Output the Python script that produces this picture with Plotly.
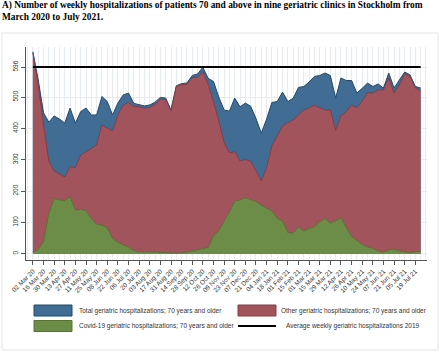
import plotly.graph_objects as go
import pandas as pd

# ---------------- data ----------------
WEEK_START = "2020-03-02"   # first weekly observation (Monday)

TOTAL = [645, 555, 450, 420, 440, 430, 417, 465, 417, 454,
         465, 443, 443, 502, 486, 443, 481, 507, 513, 480,
         476, 472, 475, 484, 499, 497, 459, 536, 543, 545,
         569, 574, 595, 560, 550, 500, 459, 455, 497, 469,
         481, 471, 432, 385, 430, 483, 486, 516, 486, 496,
         531, 534, 548, 566, 569, 577, 569, 497, 561, 553,
         553, 513, 528, 545, 534, 542, 529, 577, 529, 555,
         580, 571, 534, 529]

OTHER = [641, 540, 411, 295, 264, 254, 245, 278, 275, 315,
         326, 335, 347, 411, 401, 392, 443, 475, 483, 470,
         469, 465, 467, 477, 494, 492, 456, 534, 540, 540,
         562, 563, 580, 540, 485, 425, 355, 322, 326, 296,
         301, 295, 266, 232, 275, 345, 376, 408, 419, 427,
         443, 459, 465, 475, 466, 459, 459, 394, 440, 454,
         475, 466, 488, 514, 513, 523, 523, 561, 513, 539,
         575, 566, 529, 521]

COVID = [4, 14, 40, 130, 177, 172, 170, 182, 140, 142,
         138, 113, 94, 92, 83, 49, 37, 28, 22, 10,
         6, 6, 8, 6, 4, 3, 2, 2, 3, 6,
         8, 12, 17, 20, 58, 73, 105, 134, 168, 172,
         179, 174, 167, 155, 145, 137, 113, 105, 68, 66,
         86, 73, 81, 86, 102, 113, 98, 105, 115, 84,
         55, 42, 30, 22, 17, 9, 6, 12, 15, 9,
         6, 4, 6, 9]

AVG_2019 = 596

TICK_LABELS = ["02 Mar 20", "16 Mar 20", "30 Mar 20", "13 Apr 20", "27 Apr 20",
               "11 May 20", "25 May 20", "08 Jun 20", "22 Jun 20", "06 Jul 20",
               "20 Jul 20", "03 Aug 20", "17 Aug 20", "31 Aug 20", "14 Sep 20",
               "28 Sep 20", "12 Oct 20", "26 Oct 20", "09 Nov 20", "23 Nov 20",
               "07 Dec 20", "21 Dec 20", "04 Jan 21", "18 Jan 21", "01 Feb 21",
               "15 Feb 21", "01 Mar 21", "15 Mar 21", "29 Mar 21", "12 Apr 21",
               "26 Apr 21", "10 May 21", "24 May 21", "07 Jun 21", "21 Jun 21",
               "05 Jul 21", "19 Jul 21"]

Y_TICKS = [0, 100, 200, 300, 400, 500, 596]

LEGEND_TEXT = {
    "total": "Total geriatric hospitalizations; 70 years and older",
    "other": "Other geriatric hospitalizations; 70 years and older",
    "covid": "Covid-19 geriatric hospitalizations; 70 years and older",
    "avg": "Average weekly geriatric hospitalizations 2019",
}

TITLE = ("A) Number of weekly hospitalizations of patients 70 and above in nine geriatric clinics in Stockholm from"
         "<br>March 2020 to July 2021.")

# ---------------- styling ----------------
W, H = 440, 352
ML, MR, MT, MB = 26, 13, 47, 92
BLUE_F, BLUE_L = "#416c94", "#1d4a71"
RED_F, RED_L = "#a2545c", "#8c3a41"
GREEN_F, GREEN_L = "#6c8d48", "#557530"
GRID = "#e6ecef"
AX = "#555555"
FONT = "Liberation Sans, Arial, sans-serif"

weeks = pd.date_range(WEEK_START, periods=len(TOTAL), freq="7D")
week = pd.Timedelta(days=7)
x_range = [weeks[0] - 1.3 * week, weeks[0] + 74.2 * week]

fig = go.Figure()
fig.add_trace(go.Scatter(x=weeks, y=TOTAL, mode="lines", fill="tozeroy",
                         fillcolor=BLUE_F, line=dict(color=BLUE_L, width=1),
                         name=LEGEND_TEXT["total"]))
fig.add_trace(go.Scatter(x=weeks, y=OTHER, mode="lines", fill="tozeroy",
                         fillcolor=RED_F, line=dict(color=RED_L, width=1),
                         name=LEGEND_TEXT["other"]))
fig.add_trace(go.Scatter(x=weeks, y=COVID, mode="lines", fill="tozeroy",
                         fillcolor=GREEN_F, line=dict(color=GREEN_L, width=1),
                         name=LEGEND_TEXT["covid"]))
fig.add_trace(go.Scatter(x=weeks, y=[AVG_2019] * len(weeks), mode="lines",
                         line=dict(color="black", width=2),
                         name=LEGEND_TEXT["avg"]))

pw = W - ML - MR
ph = H - MT - MB


def px_x(px):
    return (px - ML) / pw


def px_y(py):
    return (H - MB - py) / ph


shapes = []
annotations = []
# outer graph-region frame
shapes.append(dict(type="rect", xref="paper", yref="paper",
                   x0=px_x(2), x1=px_x(438), y0=px_y(350), y1=px_y(33),
                   line=dict(color="#e4e4e4", width=1), fillcolor="rgba(0,0,0,0)",
                   layer="below"))

# title
annotations.append(dict(xref="paper", yref="paper", x=px_x(0), y=px_y(-1.5),
                        xanchor="left", yanchor="top", align="left", showarrow=False,
                        text=TITLE,
                        font=dict(family="Liberation Serif, Times New Roman, serif",
                                  size=9.4, color="black", weight="bold")))

# legend
legend_items = [
    ("total", "fill", BLUE_F, BLUE_L, 34, 310.5, 77),
    ("other", "fill", RED_F, RED_L, 238, 310.5, 279),
    ("covid", "fill", GREEN_F, GREEN_L, 34, 326, 77),
    ("avg", "line", "black", "black", 238, 326, 284),
]
for key, kind, fc, lc, sx, sy, tx in legend_items:
    if kind == "fill":
        shapes.append(dict(type="rect", xref="paper", yref="paper",
                           x0=px_x(sx), x1=px_x(sx + 38), y0=px_y(sy + 5.5), y1=px_y(sy - 5.5),
                           fillcolor=fc, line=dict(color=lc, width=1)))
    else:
        shapes.append(dict(type="line", xref="paper", yref="paper",
                           x0=px_x(sx), x1=px_x(sx + 38), y0=px_y(sy), y1=px_y(sy),
                           line=dict(color=lc, width=2)))
    annotations.append(dict(xref="paper", yref="paper", x=px_x(tx), y=px_y(sy),
                            xanchor="left", yanchor="middle", showarrow=False,
                            text=LEGEND_TEXT[key],
                            font=dict(family=FONT, size=6.5, color="#333333")))

fig.update_layout(
    width=W, height=H,
    margin=dict(l=ML, r=MR, t=MT, b=MB, autoexpand=False),
    paper_bgcolor="white", plot_bgcolor="white",
    showlegend=False,
    shapes=shapes, annotations=annotations,
)
fig.update_xaxes(
    type="date", range=x_range, automargin=False,
    tickvals=list(weeks[::2]), ticktext=TICK_LABELS, tickangle=-45,
    tickfont=dict(family=FONT, size=6.5, color="#333333"),
    ticks="outside", ticklen=4, tickcolor=AX,
    showline=True, linecolor=AX, linewidth=1,
    showgrid=True, gridcolor=GRID, gridwidth=1,
    minor=dict(dtick=7 * 24 * 3600 * 1000, tick0=WEEK_START, showgrid=True,
               gridcolor=GRID, gridwidth=1),
    zeroline=False,
)
fig.update_yaxes(
    range=[-20, 660], tickvals=Y_TICKS, ticktext=[str(v) for v in Y_TICKS],
    automargin=False,
    tickangle=-90, tickfont=dict(family=FONT, size=6.5, color="#333333"),
    ticks="outside", ticklen=4, tickcolor=AX,
    showline=True, linecolor=AX, linewidth=1,
    showgrid=True, gridcolor=GRID, gridwidth=1, zeroline=False,
)

fig.write_html("out.html", include_plotlyjs=True,
               config={"displayModeBar": False, "staticPlot": True},
               post_script="document.body.style.margin='0px';"
                           "document.body.style.overflow='hidden';")
